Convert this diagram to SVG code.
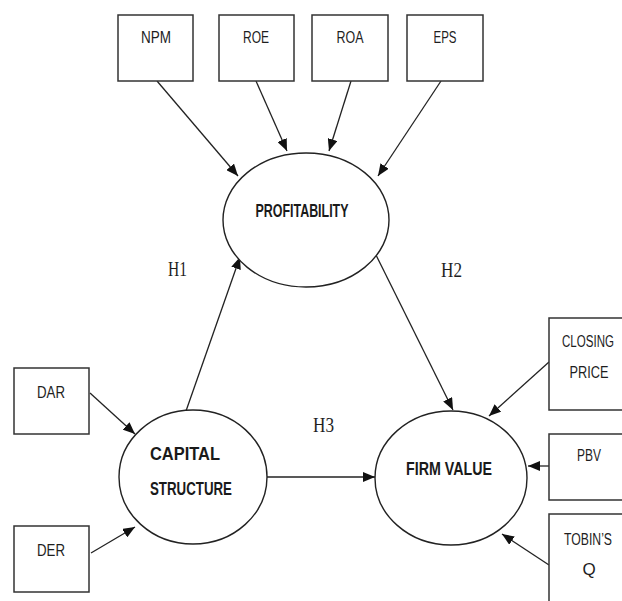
<svg xmlns="http://www.w3.org/2000/svg" width="622" height="601" viewBox="0 0 622 601">
  <style>
    .box { fill: #ffffff; stroke: #333333; stroke-width: 1.5; }
    .latent { fill: #ffffff; stroke: #222222; stroke-width: 1.4; }
    .lbl { font-family: "Liberation Sans", Arial, sans-serif; font-size: 17px; fill: #1e1e1e; text-anchor: middle; }
    .big { font-family: "Liberation Sans", Arial, sans-serif; font-size: 18.5px; font-weight: bold; fill: #1a1a1a; text-anchor: middle; }
    .hyp { font-family: "Liberation Serif", "Times New Roman", serif; font-size: 20px; fill: #1e1e1e; }
    .edge { stroke: #222222; stroke-width: 1.3; fill: none; marker-end: url(#head); }
  </style>
  <defs>
    <marker id="head" markerUnits="userSpaceOnUse" markerWidth="12" markerHeight="10" refX="12" refY="5" orient="auto">
      <path d="M0,0 L12,5 L0,10 Z" fill="#111111"/>
    </marker>
  </defs>
  <rect width="622" height="601" fill="#ffffff"/>

  <!-- connectors -->
  <g id="connectors">
    <line class="edge" x1="157" y1="81" x2="238" y2="176"/>
    <line class="edge" x1="256" y1="81" x2="287" y2="151"/>
    <line class="edge" x1="351" y1="81" x2="329" y2="151"/>
    <line class="edge" x1="441" y1="81" x2="378" y2="176"/>
    <line class="edge" x1="186" y1="411" x2="240" y2="257"/>
    <line class="edge" x1="376" y1="255" x2="453" y2="410"/>
    <line class="edge" x1="267" y1="477" x2="375" y2="477"/>
    <line class="edge" x1="90" y1="393" x2="135" y2="434"/>
    <line class="edge" x1="91" y1="553" x2="135" y2="527"/>
    <line class="edge" x1="549" y1="362" x2="489" y2="416"/>
    <line class="edge" x1="549" y1="466" x2="528" y2="466"/>
    <line class="edge" x1="549" y1="565" x2="502" y2="534"/>
  </g>

  <!-- indicator boxes -->
  <g id="npm">
    <rect class="box" x="118" y="15" width="75" height="66"/>
    <text class="lbl" x="156" y="43" textLength="30" lengthAdjust="spacingAndGlyphs">NPM</text>
  </g>
  <g id="roe">
    <rect class="box" x="219" y="15" width="75" height="66"/>
    <text class="lbl" x="256" y="43" textLength="26" lengthAdjust="spacingAndGlyphs">ROE</text>
  </g>
  <g id="roa">
    <rect class="box" x="312" y="15" width="76" height="66"/>
    <text class="lbl" x="350" y="43" textLength="27" lengthAdjust="spacingAndGlyphs">ROA</text>
  </g>
  <g id="eps">
    <rect class="box" x="407" y="15" width="76" height="66"/>
    <text class="lbl" x="445" y="43" textLength="23" lengthAdjust="spacingAndGlyphs">EPS</text>
  </g>
  <g id="dar">
    <rect class="box" x="14" y="368" width="75" height="66"/>
    <text class="lbl" x="51" y="398" textLength="28" lengthAdjust="spacingAndGlyphs">DAR</text>
  </g>
  <g id="der">
    <rect class="box" x="14" y="526" width="75" height="66"/>
    <text class="lbl" x="51" y="556" textLength="28" lengthAdjust="spacingAndGlyphs">DER</text>
  </g>
  <!-- right-hand boxes run off the page edge, so only three sides are drawn;
       their labels are condensed with a horizontal scale -->
  <g id="closing-price">
    <path class="box" d="M622,318 H549 V410 H622"/>
    <text class="lbl" transform="translate(588,347) scale(0.68,1)">CLOSING</text>
    <text class="lbl" transform="translate(589,378) scale(0.75,1)">PRICE</text>
  </g>
  <g id="pbv">
    <path class="box" d="M622,434 H549 V500 H622"/>
    <text class="lbl" x="589" y="461" textLength="24" lengthAdjust="spacingAndGlyphs">PBV</text>
  </g>
  <g id="tobins-q">
    <path class="box" d="M622,514 H549 V601"/>
    <text class="lbl" transform="translate(588,545) scale(0.72,1)">TOBIN’S</text>
    <text class="lbl" x="589" y="575">Q</text>
  </g>

  <!-- latent constructs -->
  <g id="profitability">
    <ellipse class="latent" cx="306" cy="220" rx="83" ry="67"/>
    <text class="big" x="302" y="217" textLength="93" lengthAdjust="spacingAndGlyphs">PROFITABILITY</text>
  </g>
  <g id="capital-structure">
    <ellipse class="latent" cx="193" cy="477" rx="74" ry="67"/>
    <text class="big" x="185" y="460" textLength="70" lengthAdjust="spacingAndGlyphs">CAPITAL</text>
    <text class="big" x="191" y="495" textLength="82" lengthAdjust="spacingAndGlyphs">STRUCTURE</text>
  </g>
  <g id="firm-value">
    <ellipse class="latent" cx="451" cy="478" rx="76" ry="67"/>
    <text class="big" x="449" y="475" textLength="86" lengthAdjust="spacingAndGlyphs">FIRM VALUE</text>
  </g>

  <!-- hypothesis labels -->
  <g id="hypotheses">
    <text class="hyp" x="168" y="276" textLength="19" lengthAdjust="spacingAndGlyphs">H1</text>
    <text class="hyp" x="441" y="277" textLength="21" lengthAdjust="spacingAndGlyphs">H2</text>
    <text class="hyp" x="313" y="432" textLength="21" lengthAdjust="spacingAndGlyphs">H3</text>
  </g>
</svg>
